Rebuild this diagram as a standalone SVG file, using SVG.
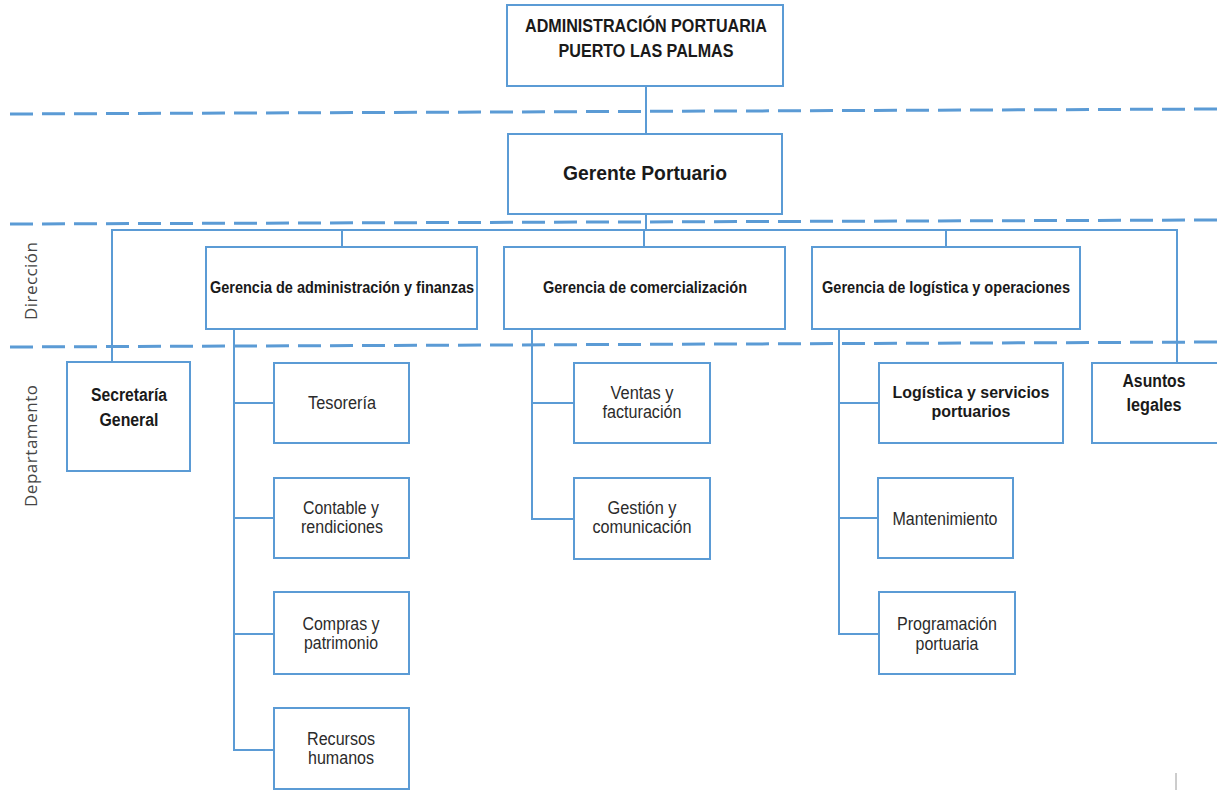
<svg xmlns="http://www.w3.org/2000/svg" width="1217" height="790" viewBox="0 0 1217 790">
<style>
.box{fill:#fff;stroke:#5b9bd5;stroke-width:2}
.con{fill:none;stroke:#5b9bd5;stroke-width:2}
.dash{fill:none;stroke:#5b9bd5;stroke-width:3;stroke-dasharray:23 9}
.b{font-family:"Liberation Sans",Arial,sans-serif;font-weight:bold;fill:#1a1a1a;text-anchor:middle}
.r{font-family:"Liberation Sans",Arial,sans-serif;fill:#2b2b2b;text-anchor:middle;font-size:17.5px}
.side{font-family:"Open Sans","DejaVu Sans",sans-serif;fill:#454545;font-size:17px;text-anchor:middle}
</style>
<rect width="1217" height="790" fill="#fff"/>
<g id="bands">
<line class="dash" x1="10" y1="114" x2="1217" y2="109"/>
<line class="dash" x1="10" y1="224" x2="1217" y2="220"/>
<line class="dash" x1="10" y1="347" x2="1217" y2="342"/>
<text class="side" transform="translate(37,281) rotate(-90)" textLength="78" lengthAdjust="spacing">Dirección</text>
<text class="side" transform="translate(37,446) rotate(-90)" textLength="122" lengthAdjust="spacing">Departamento</text>
</g>
<g id="connectors">
<line class="con" x1="646" y1="86" x2="646" y2="134"/>
<line class="con" x1="646" y1="214" x2="646" y2="230"/>
<polyline class="con" points="112,362 112,230 1177,230 1177,363"/>
<line class="con" x1="342" y1="230" x2="342" y2="247"/>
<line class="con" x1="644" y1="230" x2="644" y2="247"/>
<line class="con" x1="946" y1="230" x2="946" y2="247"/>
<polyline class="con" points="234,329 234,750 274,750"/>
<line class="con" x1="234" y1="403" x2="274" y2="403"/>
<line class="con" x1="234" y1="518" x2="274" y2="518"/>
<line class="con" x1="234" y1="634" x2="274" y2="634"/>
<polyline class="con" points="532,329 532,519 574,519"/>
<line class="con" x1="532" y1="403" x2="574" y2="403"/>
<polyline class="con" points="839,329 839,634 879,634"/>
<line class="con" x1="839" y1="403" x2="879" y2="403"/>
<line class="con" x1="839" y1="518" x2="878" y2="518"/>
</g>
<g id="n-top"><rect class="box" x="507" y="5" width="276" height="81"/>
<text class="b" x="646" y="32" font-size="17.5" textLength="242" lengthAdjust="spacingAndGlyphs">ADMINISTRACIÓN PORTUARIA</text>
<text class="b" x="646" y="57" font-size="17.5" textLength="175" lengthAdjust="spacingAndGlyphs">PUERTO LAS PALMAS</text></g>
<g id="n-gerente"><rect class="box" x="508" y="134" width="274" height="80"/>
<text class="b" x="645" y="180" font-size="20.5" textLength="164" lengthAdjust="spacingAndGlyphs">Gerente Portuario</text></g>
<g id="n-gaf"><rect class="box" x="206" y="247" width="271" height="82"/>
<text class="b" x="342" y="293" font-size="16" textLength="264" lengthAdjust="spacingAndGlyphs">Gerencia de administración y finanzas</text></g>
<g id="n-gc"><rect class="box" x="504" y="247" width="281" height="82"/>
<text class="b" x="645" y="293" font-size="16" textLength="204" lengthAdjust="spacingAndGlyphs">Gerencia de comercialización</text></g>
<g id="n-glo"><rect class="box" x="812" y="247" width="268" height="82"/>
<text class="b" x="946" y="293" font-size="16" textLength="248" lengthAdjust="spacingAndGlyphs">Gerencia de logística y operaciones</text></g>
<g id="n-sec"><rect class="box" x="67" y="362" width="123" height="109"/>
<text class="b" x="129" y="401" font-size="17.5" textLength="76" lengthAdjust="spacingAndGlyphs">Secretaría</text>
<text class="b" x="129" y="426" font-size="17.5" textLength="59" lengthAdjust="spacingAndGlyphs">General</text></g>
<g id="n-tes"><rect class="box" x="274" y="363" width="135" height="80"/>
<text class="r" x="342" y="409" textLength="68" lengthAdjust="spacingAndGlyphs">Tesorería</text></g>
<g id="n-cont"><rect class="box" x="274" y="478" width="135" height="80"/>
<text class="r" x="341" y="514" textLength="76" lengthAdjust="spacingAndGlyphs">Contable y</text>
<text class="r" x="342" y="533" textLength="82" lengthAdjust="spacingAndGlyphs">rendiciones</text></g>
<g id="n-comp"><rect class="box" x="274" y="592" width="135" height="82"/>
<text class="r" x="341" y="630" textLength="77" lengthAdjust="spacingAndGlyphs">Compras y</text>
<text class="r" x="341" y="649" textLength="74" lengthAdjust="spacingAndGlyphs">patrimonio</text></g>
<g id="n-rrhh"><rect class="box" x="274" y="708" width="135" height="81"/>
<text class="r" x="341" y="745" textLength="68" lengthAdjust="spacingAndGlyphs">Recursos</text>
<text class="r" x="341" y="764" textLength="66" lengthAdjust="spacingAndGlyphs">humanos</text></g>
<g id="n-ventas"><rect class="box" x="574" y="363" width="136" height="80"/>
<text class="r" x="642" y="399" textLength="63" lengthAdjust="spacingAndGlyphs">Ventas y</text>
<text class="r" x="642" y="418" textLength="79" lengthAdjust="spacingAndGlyphs">facturación</text></g>
<g id="n-gest"><rect class="box" x="574" y="478" width="136" height="81"/>
<text class="r" x="642" y="514" textLength="69" lengthAdjust="spacingAndGlyphs">Gestión y</text>
<text class="r" x="642" y="533" textLength="99" lengthAdjust="spacingAndGlyphs">comunicación</text></g>
<g id="n-logs"><rect class="box" x="879" y="363" width="184" height="80"/>
<text class="b" x="971" y="398" font-size="17" textLength="157" lengthAdjust="spacingAndGlyphs">Logística y servicios</text>
<text class="b" x="971" y="417" font-size="17" textLength="79" lengthAdjust="spacingAndGlyphs">portuarios</text></g>
<g id="n-mant"><rect class="box" x="878" y="478" width="135" height="80"/>
<text class="r" x="945" y="525" textLength="105" lengthAdjust="spacingAndGlyphs">Mantenimiento</text></g>
<g id="n-prog"><rect class="box" x="879" y="592" width="136" height="82"/>
<text class="r" x="947" y="630" textLength="100" lengthAdjust="spacingAndGlyphs">Programación</text>
<text class="r" x="947" y="650" textLength="63" lengthAdjust="spacingAndGlyphs">portuaria</text></g>
<g id="n-asuntos"><rect class="box" x="1092" y="363" width="126" height="80"/>
<text class="b" x="1154" y="387" font-size="17.5" textLength="63" lengthAdjust="spacingAndGlyphs">Asuntos</text>
<text class="b" x="1154" y="411" font-size="17.5" textLength="55" lengthAdjust="spacingAndGlyphs">legales</text></g>
<line x1="1176" y1="773" x2="1176" y2="790" stroke="#9a9a9a" stroke-width="1"/>
</svg>
